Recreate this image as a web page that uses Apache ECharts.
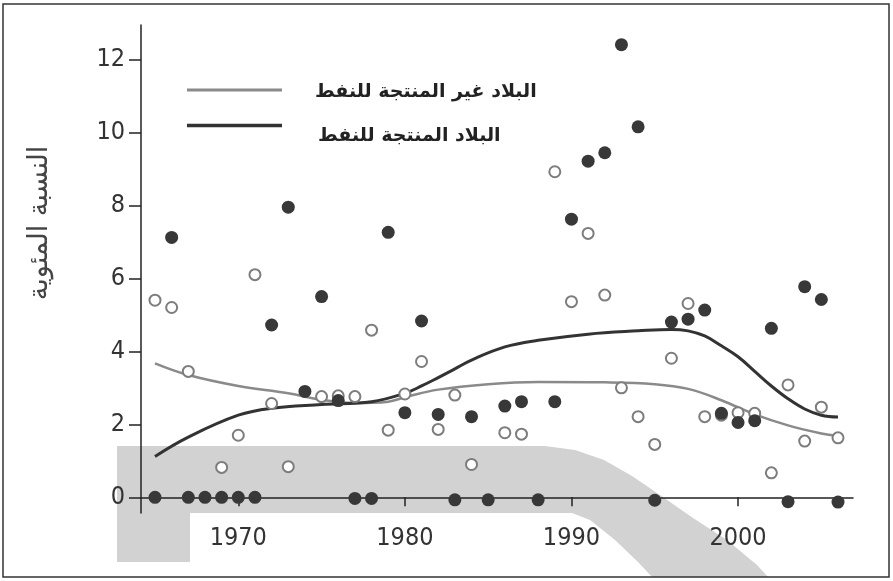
<!DOCTYPE html>
<html>
<head>
<meta charset="utf-8">
<script src="https://cdn.jsdelivr.net/npm/echarts@6/dist/echarts.min.js"></script>
<style>
  html, body { margin: 0; padding: 0; background: #fff; }
  #chart { width: 893px; height: 581px; }
</style>
</head>
<body>
<div id="chart"></div>
<script>
// years with a value for each group
const nonOilYears = [1965, 1966, 1967, 1969, 1970, 1971, 1972, 1973, 1975, 1976, 1977, 1978, 1979, 1980,
  1981, 1982, 1983, 1984, 1986, 1987, 1989, 1990, 1991, 1992, 1993, 1994, 1995, 1996, 1997, 1998,
  1999, 2000, 2001, 2002, 2003, 2004, 2005, 2006]
const nonOilValues = [5.4, 5.2, 3.45, 0.82, 1.7, 6.1, 2.57, 0.84, 2.76, 2.78, 2.76, 4.58, 1.84, 2.83,
  3.72, 1.86, 2.8, 0.9, 1.77, 1.73, 8.92, 5.36, 7.23, 5.54, 3.0, 2.21, 1.45, 3.81, 5.31, 2.21,
  2.25, 2.32, 2.3, 0.67, 3.08, 1.54, 2.47, 1.63]

const oilYears = [1965, 1966, 1967, 1968, 1969, 1970, 1971, 1972, 1973, 1974, 1975, 1976, 1977, 1978,
  1979, 1980, 1981, 1982, 1983, 1984, 1985, 1986, 1987, 1988, 1989, 1990, 1991, 1992, 1993, 1994,
  1995, 1996, 1997, 1998, 1999, 2000, 2001, 2002, 2003, 2004, 2005, 2006]
const oilValues = [0, 7.12, 0, 0, 0, 0, 0, 4.72, 7.95, 2.9, 5.5, 2.65, -0.03, -0.03,
  7.26, 2.32, 4.83, 2.27, -0.07, 2.21, -0.07, 2.5, 2.62, -0.07, 2.62, 7.62, 9.21, 9.44, 12.4, 10.15,
  -0.08, 4.8, 4.88, 5.13, 2.3, 2.05, 2.1, 4.63, -0.12, 5.77, 5.42, -0.13]

// smoothed trend lines
const nonOilTrendYears = [1965, 1967, 1970, 1973, 1975, 1977, 1979, 1980, 1982, 1985, 1988, 1992, 1995, 1997, 1999, 2001, 2003, 2005, 2006]
const nonOilTrend = [3.67, 3.35, 3.05, 2.85, 2.67, 2.58, 2.62, 2.74, 2.95, 3.1, 3.16, 3.15, 3.1, 2.97, 2.66, 2.27, 1.97, 1.75, 1.68]
const oilTrendYears = [1965, 1967, 1970, 1972, 1975, 1978, 1980, 1981, 1982, 1983, 1984, 1986, 1988, 1991, 1994, 1996, 1997, 1998, 1999, 2000, 2001, 2002, 2003, 2004, 2005, 2006]
const oilTrend = [1.12, 1.65, 2.25, 2.44, 2.54, 2.62, 2.85, 3.05, 3.28, 3.52, 3.76, 4.12, 4.3, 4.47, 4.56, 4.6, 4.56, 4.42, 4.15, 3.85, 3.45, 3.05, 2.7, 2.42, 2.25, 2.2]

const xTicks = [1970, 1980, 1990, 2000]
const yTicks = [0, 2, 4, 6, 8, 10, 12]

const nonOilName = 'البلاد غير المنتجة للنفط'
const oilName = 'البلاد المنتجة للنفط'
const yName = 'النسبة المئوية'

const nonOilColor = '#8a8a8a'
const oilColor = '#333'

function pairs(xs, ys) {
  return xs.map((x, i) => [x, ys[i]])
}

// hand placed key, the printed one has its text sitting below the sample line
function keyItem(name, color, lineY, textX, textY, width) {
  return [
    {
      type: 'line',
      silent: true,
      shape: { x1: 187, y1: lineY, x2: 282, y2: lineY },
      style: { stroke: color, lineWidth: width }
    },
    {
      type: 'text',
      x: textX,
      y: textY,
      style: {
        text: name,
        font: 'bold 19px "DejaVu Sans"',
        fill: '#222',
        align: 'left',
        verticalAlign: 'middle'
      }
    }
  ]
}

const labelFont = {
  fontFamily: '"Liberation Sans Narrow", "DejaVu Sans Condensed", "Liberation Sans"',
  fontSize: 25,
  color: '#333'
}

function getOptions() {
  return {
    backgroundColor: '#fff',
    animation: false,
    grid: { left: 141, right: 40, top: 25, bottom: 68 },
    graphic: [
      {
        // grey printed band behind the plot
        type: 'polygon',
        z: -10,
        silent: true,
        shape: {
          points: [[117, 446], [545, 446], [575, 450], [604, 460], [632, 476], [660, 495], [693, 518],
            [727, 540], [757, 565], [768, 577], [652, 577], [638, 562], [615, 540], [590, 520],
            [572, 513], [190, 513], [190, 562], [117, 562]]
        },
        style: { fill: '#d2d2d2' }
      },
      {
        type: 'rect',
        z: -5,
        silent: true,
        shape: { x: 3, y: 4, width: 886, height: 573 },
        style: { fill: 'none', stroke: '#333', lineWidth: 1.5 }
      },
      {
        type: 'text',
        x: 40,
        y: 223,
        rotation: Math.PI / 2,
        style: {
          text: yName,
          font: '27px "DejaVu Sans"',
          fill: '#444',
          align: 'center',
          verticalAlign: 'middle'
        }
      },
      ...keyItem(nonOilName, nonOilColor, 90, 315, 92, 3),
      ...keyItem(oilName, oilColor, 125.5, 318, 136, 3.5)
    ],
    xAxis: {
      type: 'value',
      min: 1964.16,
      max: 2006.9,
      splitLine: { show: false },
      axisLine: { lineStyle: { color: '#222', width: 1.5 } },
      axisTick: { customValues: xTicks, length: 9, lineStyle: { color: '#222', width: 1.5 } },
      axisLabel: Object.assign({
        customValues: xTicks,
        margin: 13,
        formatter: v => String(v)
      }, labelFont)
    },
    yAxis: {
      type: 'value',
      min: -0.43,
      max: 12.94,
      splitLine: { show: false },
      axisLine: { show: true, lineStyle: { color: '#222', width: 1.5 } },
      axisTick: { show: true, customValues: yTicks, length: 12, lineStyle: { color: '#222', width: 1.5 } },
      axisLabel: Object.assign({
        customValues: yTicks,
        margin: 16
      }, labelFont)
    },
    series: [
      {
        name: nonOilName,
        type: 'line',
        smooth: 0.4,
        symbol: 'none',
        data: pairs(nonOilTrendYears, nonOilTrend),
        lineStyle: { color: nonOilColor, width: 2.5 },
        itemStyle: { color: nonOilColor },
        z: 3
      },
      {
        name: oilName,
        type: 'line',
        smooth: 0.4,
        symbol: 'none',
        data: pairs(oilTrendYears, oilTrend),
        lineStyle: { color: oilColor, width: 3 },
        itemStyle: { color: oilColor },
        z: 3
      },
      {
        name: 'nonOilPoints',
        type: 'scatter',
        symbolSize: 11,
        data: pairs(nonOilYears, nonOilValues),
        itemStyle: { color: '#fff', borderColor: '#7d7d7d', borderWidth: 2, opacity: 1 },
        z: 4
      },
      {
        name: 'oilPoints',
        type: 'scatter',
        symbolSize: 13,
        data: pairs(oilYears, oilValues),
        itemStyle: { color: '#383838', opacity: 1 },
        z: 5
      }
    ]
  }
}

const chart = echarts.init(document.getElementById('chart'))
chart.setOption(getOptions())
</script>
</body>
</html>
